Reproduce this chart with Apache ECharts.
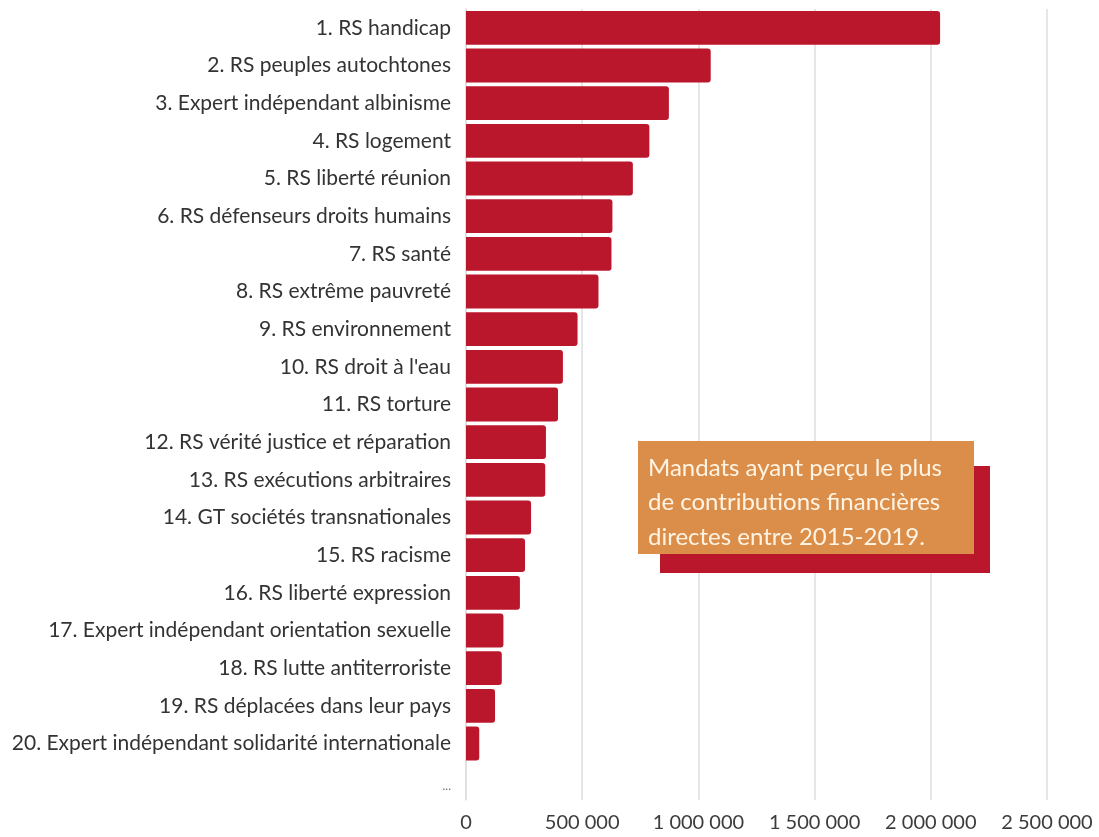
<!DOCTYPE html>
<html>
<head>
<meta charset="utf-8">
<script src="https://cdn.jsdelivr.net/npm/echarts@6/dist/echarts.min.js"></script>
<style>
html,body{margin:0;padding:0;background:#fff;}
#chart{width:1099px;height:837px;}
</style>
</head>
<body>
<div id="chart"></div>
<script>
const categories = [
  "1. RS handicap",
  "2. RS peuples autochtones",
  "3. Expert indépendant albinisme",
  "4. RS logement",
  "5. RS liberté réunion",
  "6. RS défenseurs droits humains",
  "7. RS santé",
  "8. RS extrême pauvreté",
  "9. RS environnement",
  "10. RS droit à l'eau",
  "11. RS torture",
  "12. RS vérité justice et réparation",
  "13. RS exécutions arbitraires",
  "14. GT sociétés transnationales",
  "15. RS racisme",
  "16. RS liberté expression",
  "17. Expert indépendant orientation sexuelle",
  "18. RS lutte antiterroriste",
  "19. RS déplacées dans leur pays",
  "20. Expert indépendant solidarité internationale",
  "..."
];
const contributions = [
  2040000, 1053000, 873000, 789000, 718000, 630000, 626000, 570000, 480000, 417000,
  396000, 344000, 341000, 280000, 254000, 232000, 161000, 154000, 125000, 57000, null
];
const xTicks = { min: 0, max: 2500000, interval: 500000 };
const noteLines = [
  "Mandats ayant perçu le plus",
  "de contributions financières",
  "directes entre 2015-2019."
];

const FONT = "Lato";
const chart = echarts.init(document.getElementById('chart'));
chart.setOption({
  animation: false,
  backgroundColor: '#ffffff',
  grid: { left: 466, right: 52, top: 9, bottom: 37, containLabel: false },
  xAxis: {
    type: 'value',
    min: xTicks.min, max: xTicks.max, interval: xTicks.interval,
    axisLine: { show: false },
    axisTick: { show: false },
    splitLine: { show: true, lineStyle: { color: '#dedede', width: 1.5 } },
    axisLabel: {
      margin: 13,
      fontFamily: FONT, fontSize: 20, color: '#3c3c3c',
      formatter: v => String(v).replace(/\B(?=(\d{3})+(?!\d))/g, ' ')
    }
  },
  yAxis: {
    type: 'category',
    inverse: true,
    data: categories,
    axisLine: { show: true, lineStyle: { color: '#dedede', width: 1.5 } },
    axisTick: { show: false },
    axisLabel: {
      margin: 15,
      fontFamily: FONT, fontSize: 21, color: '#333333',
      formatter: v => v === '...' ? '{dots|...}' : v,
      rich: { dots: { fontFamily: FONT, fontSize: 12, color: '#666', padding: [10, 0, 0, 0] } }
    }
  },
  series: [{
    type: 'bar',
    data: contributions,
    barCategoryGap: '10%',
    itemStyle: { color: '#bb172c', borderRadius: [0, 3, 3, 0] },
    z: 3
  }],
  graphic: [
    { type: 'rect', shape: { x: 660, y: 466, width: 330, height: 107 }, style: { fill: '#bb172c' }, z: 10 },
    { type: 'rect', shape: { x: 638, y: 441, width: 336, height: 113 }, style: { fill: '#db8e4a' }, z: 11 },
    { type: 'text', x: 648, y: 451, z: 12,
      style: { text: noteLines.join('\n'), fill: '#fff4e4', fontFamily: FONT, fontSize: 24, lineHeight: 34.5 } }
  ]
});
</script>
</body>
</html>
